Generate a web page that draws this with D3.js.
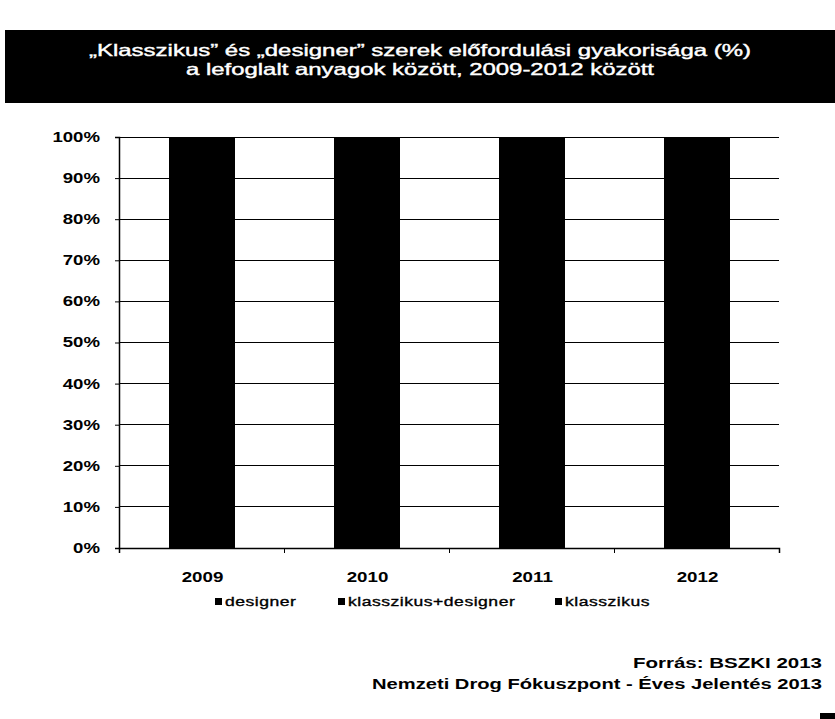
<!DOCTYPE html>
<html>
<head>
<meta charset="utf-8">
<script src="https://cdn.jsdelivr.net/npm/d3@7"></script>
<style>
  body { margin: 0; background: #fff; }
  text { font-family: "Liberation Sans", Arial, sans-serif; }
</style>
</head>
<body>
<script>
var w = 835;
var h = 719;

// data (bars are all black in the source, shares are estimates)
var years = ["2009", "2010", "2011", "2012"];
var seriesNames = ["designer", "klasszikus+designer", "klasszikus"];
var designer = [20, 45, 30, 25];
var mixed = [5, 10, 10, 10];
var classic = [75, 45, 60, 65];
var yTicks = [0, 10, 20, 30, 40, 50, 60, 70, 80, 90, 100];

var titleLines = [
    "\u201eKlasszikus\u201d és \u201edesigner\u201d szerek előfordulási gyakorisága (%)",
    "a lefoglalt anyagok között, 2009-2012 között"
];
var titleWidths = [662, 468];
var sourceLines = ["Forrás: BSZKI 2013", "Nemzeti Drog Fókuszpont - Éves Jelentés 2013"];
var sourceWidths = [189, 450];

// the scan is stretched sideways
var sx = 1.33;

var rows = years.map((y, i) => ({
    year: y,
    designer: designer[i],
    "klasszikus+designer": mixed[i],
    klasszikus: classic[i]
}));

var stack = d3.stack().keys(seriesNames).offset(d3.stackOffsetExpand);
var layers = stack(rows);

var margin = {left: 119, right: 56, top: 137, bottom: 171};

var xScale = d3.scaleBand()
    .domain(years)
    .range([margin.left, w - margin.right])
    .paddingInner(0.6)
    .paddingOuter(0.3);

var xBounds = d3.scaleLinear()
    .domain([0, years.length])
    .range([margin.left, w - margin.right]);

var yScale = d3.scaleLinear()
    .domain([0, 100])
    .range([h - margin.bottom, margin.top]);

var svg = d3.select("body")
    .append("svg")
    .attr("width", w)
    .attr("height", h);

// title box
svg.append("rect")
    .attr("x", 5)
    .attr("y", 30)
    .attr("width", w - 5)
    .attr("height", 73)
    .attr("fill", "#000");

svg.selectAll("text.title")
    .data(titleLines)
    .enter()
    .append("text")
    .attr("class", "title")
    .attr("x", 420)
    .attr("y", (d, i) => 56 + i * 19)
    .attr("text-anchor", "middle")
    .attr("fill", "#fff")
    .attr("font-size", 16.5)
    .attr("textLength", (d, i) => titleWidths[i])
    .attr("lengthAdjust", "spacingAndGlyphs")
    .style("stroke", "#fff")
    .style("stroke-width", 0.4)
    .text(d => d);

// gridlines
svg.append("g")
    .attr("shape-rendering", "crispEdges")
    .selectAll("line")
    .data(yTicks.slice(1))
    .enter()
    .append("line")
    .attr("x1", margin.left)
    .attr("x2", w - margin.right)
    .attr("y1", d => yScale(d))
    .attr("y2", d => yScale(d))
    .attr("stroke", "#000")
    .attr("stroke-width", 1);

// bars
svg.append("g")
    .attr("shape-rendering", "crispEdges")
    .selectAll("g")
    .data(layers)
    .enter()
    .append("g")
    .attr("fill", "#000")
    .selectAll("rect")
    .data(d => d)
    .enter()
    .append("rect")
    .attr("x", d => xScale(d.data.year))
    .attr("width", xScale.bandwidth())
    .attr("y", d => yScale(d[1] * 100))
    .attr("height", d => yScale(d[0] * 100) - yScale(d[1] * 100) + 1);

// y axis
var yAxis = d3.axisLeft(yScale)
    .tickValues(yTicks)
    .tickSize(4)
    .tickFormat(d => d + "%");

var gy = svg.append("g")
    .attr("transform", "translate(" + margin.left + ",0)")
    .call(yAxis);
gy.select(".domain").attr("stroke", "#000").attr("stroke-width", 1.5);
gy.selectAll("text")
    .attr("x", -19 / sx)
    .attr("transform", "scale(" + sx + ",1)")
    .attr("font-size", 14)
    .attr("font-weight", "bold")
    .attr("font-family", "Liberation Sans, Arial, sans-serif")
    .attr("fill", "#000");

// x axis
var xAxis = d3.axisBottom(xBounds)
    .tickValues(d3.range(years.length + 1))
    .tickSize(5)
    .tickFormat("");

var gx = svg.append("g")
    .attr("transform", "translate(0," + (h - margin.bottom) + ")")
    .call(xAxis);
gx.select(".domain").attr("stroke", "#000").attr("stroke-width", 1.5);

svg.append("g")
    .selectAll("text")
    .data(years)
    .enter()
    .append("text")
    .attr("transform", d => "translate(" + (xScale(d) + xScale.bandwidth() / 2 + 1) + ",582) scale(1.25,1)")
    .attr("text-anchor", "middle")
    .attr("font-size", 15)
    .attr("font-weight", "bold")
    .text(d => d);

// legend
var legendX = [215, 338, 555];
var legend = svg.append("g")
    .selectAll("g")
    .data(seriesNames)
    .enter()
    .append("g")
    .attr("transform", (d, i) => "translate(" + legendX[i] + ",606)");

legend.append("rect")
    .attr("x", 0)
    .attr("y", -8)
    .attr("width", 7)
    .attr("height", 7)
    .attr("fill", "#000");

legend.append("text")
    .attr("x", 10)
    .attr("y", 0)
    .attr("transform", "scale(1.0,1)")
    .attr("font-size", 13.5)
    .attr("letter-spacing", 0.4)
    .style("stroke", "#000")
    .style("stroke-width", 0.35)
    .each(function(d) {
        // widen each label like the scan
        d3.select(this)
            .attr("transform", "translate(10,0) scale(1.3,1) translate(-10,0)");
    })
    .text(d => d);

// source
svg.selectAll("text.source")
    .data(sourceLines)
    .enter()
    .append("text")
    .attr("class", "source")
    .attr("x", (d, i) => 822 - sourceWidths[i])
    .attr("y", (d, i) => 668 + i * 21)
    .attr("font-size", 14.5)
    .attr("font-weight", "bold")
    .attr("textLength", (d, i) => sourceWidths[i])
    .attr("lengthAdjust", "spacingAndGlyphs")
    .text(d => d);

// scan marks
svg.append("rect")
    .attr("x", 820)
    .attr("y", 713)
    .attr("width", 15)
    .attr("height", 6)
    .attr("fill", "#000");
</script>
</body>
</html>
